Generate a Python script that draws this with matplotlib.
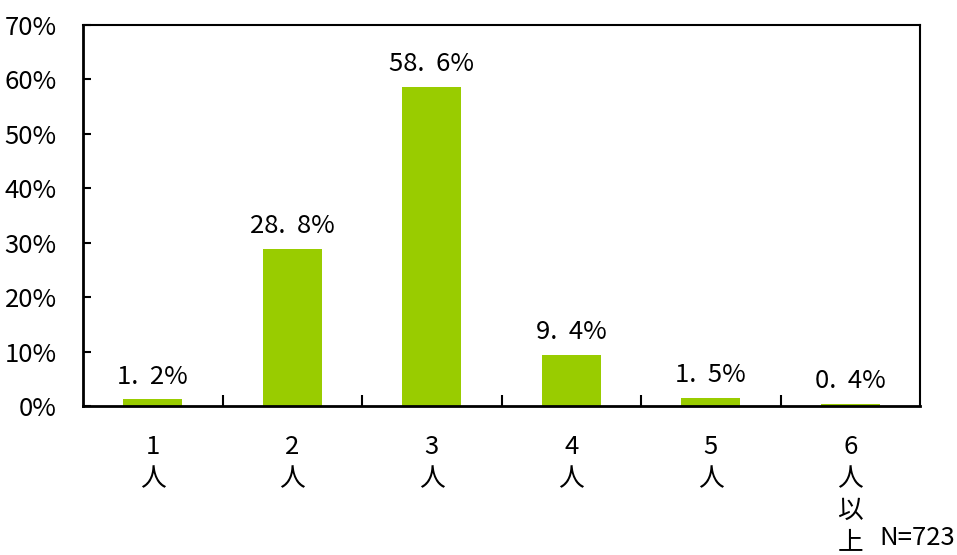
import matplotlib
matplotlib.use("Agg")
import matplotlib.pyplot as plt
from matplotlib.ticker import PercentFormatter

plt.rcParams['font.family'] = ['Noto Sans CJK JP', 'DejaVu Sans']

# 世帯人数の分布
categories = ["1\n人", "2\n人", "3\n人", "4\n人", "5\n人", "6\n人\n以\n上"]
values = [1.2, 28.8, 58.6, 9.4, 1.5, 0.4]
n_total = 723

fig = plt.figure(figsize=(9.57, 5.55), dpi=100)
ax = fig.add_axes([83 / 957, 1 - 406 / 555, (920 - 83) / 957, (406 - 25) / 555])

x = range(len(values))
bars = ax.bar(x, values, width=0.42, color="#99cc00", zorder=2)

for xi, v in zip(x, values):
    ax.text(xi, v + 1.8, f"{v:.1f}".replace(".", ".  ") + "%",
            ha="center", va="bottom", fontsize=18.5)

ax.set_xlim(-0.5, len(values) - 0.5)
ax.set_ylim(0, 70)
ax.set_yticks(range(0, 71, 10))
ax.yaxis.set_major_formatter(PercentFormatter(decimals=0))
ax.tick_params(axis="y", direction="in", length=6, width=1.5, labelsize=18.5, pad=19)

# 区切り目盛りはカテゴリの間、ラベルはバーの中央
ax.set_xticks([i + 0.5 for i in range(len(values) - 1)])
ax.set_xticklabels([])
ax.tick_params(axis="x", direction="in", length=8, width=1.5)
ax.set_xticks(list(x), minor=True)
ax.set_xticklabels(categories, minor=True, fontsize=18.5, linespacing=1.3, va="top")
ax.tick_params(axis="x", which="minor", length=0, pad=20)

for s in ax.spines.values():
    s.set_linewidth(1.5)
ax.spines["left"].set_linewidth(2)
ax.spines["bottom"].set_linewidth(2)

fig.text(955 / 957, 1 - 538 / 555, f"N={n_total}", ha="right", va="center", fontsize=18.5)

fig.savefig("out.png", dpi=100)
